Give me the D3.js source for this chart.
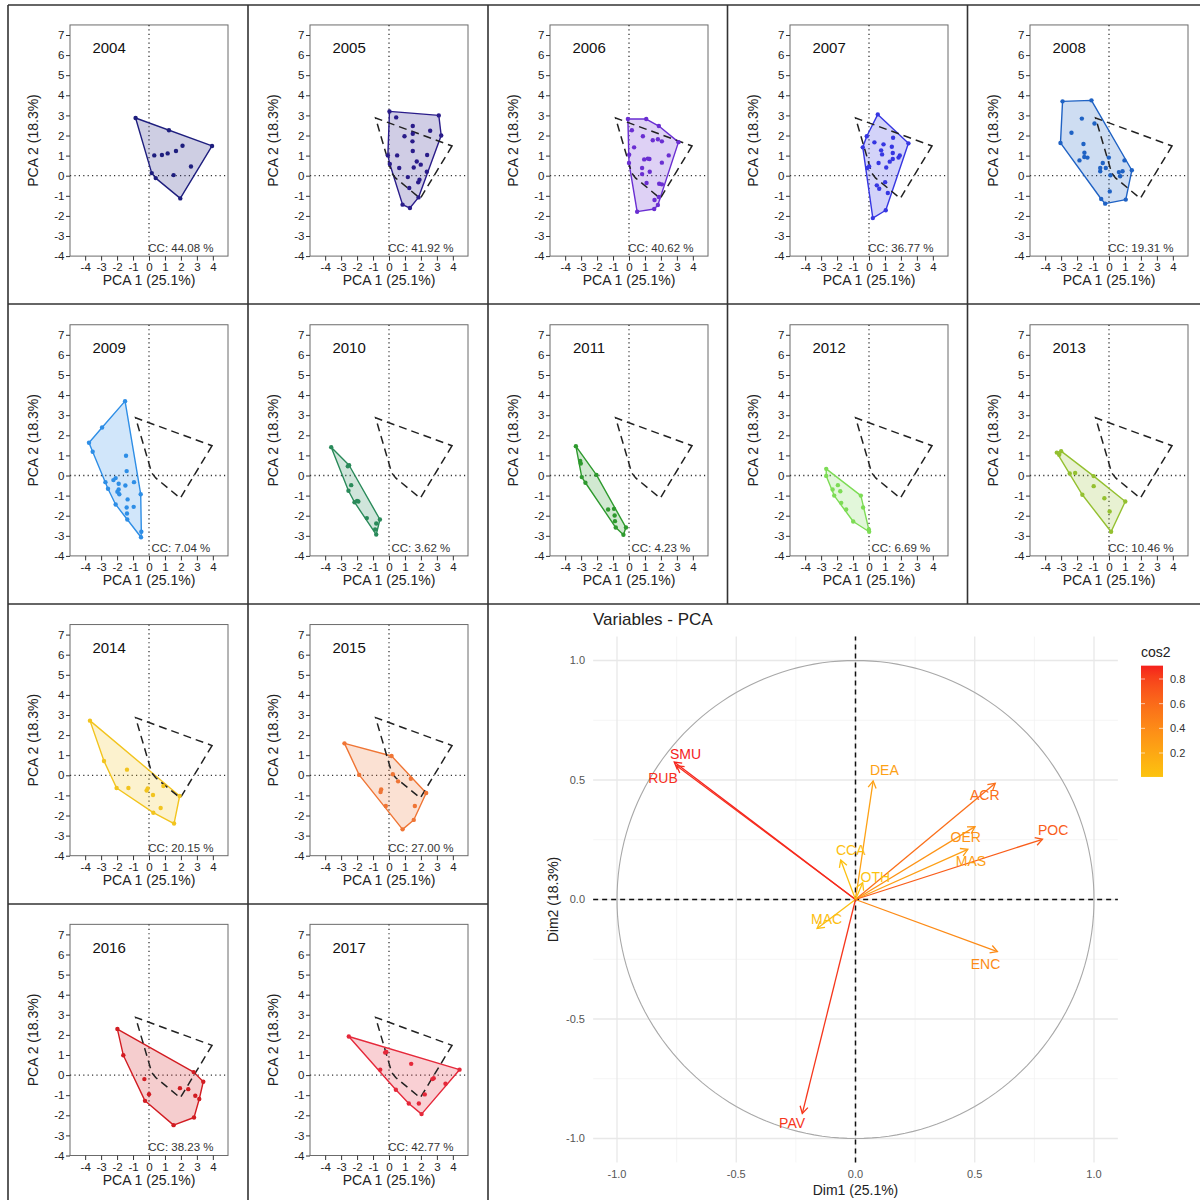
<!DOCTYPE html>
<html><head><meta charset="utf-8">
<script src="https://cdn.jsdelivr.net/npm/d3@7"></script>
<style>
body{margin:0;background:#fff;}
svg{display:block;font-family:"Liberation Sans",Arial,sans-serif;}
</style>
</head><body>
<svg id="c" width="1201" height="1201"></svg>
<script>
// ---------------- DATA ----------------
const years = [2004,2005,2006,2007,2008,2009,2010,2011,2012,2013,2014,2015,2016,2017];
const ccValues = ["44.08","41.92","40.62","36.77","19.31","7.04","3.62","4.23","6.69","10.46","20.15","27.00","38.23","42.77"];
const yearColors = ["#1e1e7e","#2a1c8a","#6a2ed2","#3636e2","#1f62c4","#2e8ee6","#2a8a5a","#2e9a2e","#7ddc55","#94c030","#f2c41e","#ef7535","#d21c22","#e5283a"];

const pts2004 = [[-0.84,2.87],[1.25,2.26],[3.95,1.48],[2.1,1.49],[1.69,1.23],[1.17,1.11],[0.81,1.03],[0.33,1.01],[2.63,0.46],[1.54,0.03],[0.17,0.13],[0.42,-0.12],[1.96,-1.13]];
const pts2005 = [[0.03,3.2],[0.45,2.9],[3.12,3.0],[3.27,2.0],[1.49,2.47],[1.49,2.09],[2.58,2.24],[0.97,1.96],[1.47,1.71],[1.49,1.23],[-0.07,1.01],[0.51,1.01],[2.39,1.03],[1.74,0.71],[1.99,0.55],[1.55,0.41],[0.05,0.58],[0.64,0.38],[2.37,0.2],[1.18,-0.07],[1.91,-0.2],[1.83,-0.33],[1.27,-0.61],[1.85,-1.08],[0.85,-1.44],[1.31,-1.61]];
const pts2006 = [[-0.07,2.82],[1.08,2.82],[1.87,2.47],[3.1,1.67],[0.18,2.26],[0.87,1.96],[1.49,1.76],[1.81,1.81],[2.06,1.71],[0.32,1.41],[2.49,1.01],[0.01,1.04],[0.95,0.81],[1.18,0.85],[1.28,0.83],[2.06,0.65],[0.82,0.38],[1.3,0.2],[0.82,0.08],[1.1,-0.36],[1.89,-0.4],[2.06,-0.43],[1.87,-1.06],[1.6,-1.21],[1.81,-1.46],[1.58,-1.66],[0.51,-1.79],[0.0,0.63]];
const pts2007 = [[0.55,3.05],[-0.14,1.96],[-0.39,1.41],[2.47,1.61],[1.51,1.89],[0.34,1.66],[0.91,1.56],[1.43,1.44],[0.76,1.26],[0.82,1.06],[1.49,1.13],[1.93,1.01],[1.85,0.9],[1.49,0.83],[1.3,0.7],[0.6,0.63],[0.01,0.46],[-0.11,0.38],[1.08,0.41],[1.01,-0.32],[0.49,-0.48],[0.64,-0.65],[1.18,-0.86],[1.05,-1.72],[0.24,-2.11]];
const pts2008 = [[-2.91,3.7],[-1.1,3.75],[-3.04,1.63],[-2.35,2.14],[-1.7,2.84],[-0.91,2.6],[-1.6,1.58],[-1.54,1.14],[-1.35,0.9],[-1.55,0.93],[-1.85,0.76],[-0.39,0.63],[-0.55,0.38],[-0.55,0.22],[-0.2,0.38],[-0.01,0.9],[0.97,0.76],[1.43,0.27],[0.85,0.22],[0.62,0.18],[0.7,-0.03],[0.09,0.02],[0.05,-0.78],[-0.49,-1.16],[-0.24,-1.39],[1.05,-1.19]];
const pts2009 = [[-1.5,3.7],[-2.94,2.39],[-3.76,1.63],[-3.53,1.18],[-1.44,0.98],[-1.4,0.22],[-2.73,-0.33],[-2.23,-0.23],[-2.09,-0.13],[-1.9,-0.41],[-1.48,-0.5],[-0.94,-0.33],[-2.57,-0.66],[-1.9,-0.7],[-1.98,-0.81],[-1.86,-0.93],[-0.52,-0.93],[-1.34,-1.19],[-0.96,-1.56],[-1.4,-1.59],[-2.09,-1.44],[-1.38,-1.89],[-1.36,-2.19],[-0.48,-2.8],[-0.5,-3.07]];
const pts2010 = [[-3.62,1.41],[-2.5,0.51],[-2.58,0.46],[-2.37,-0.48],[-2.54,-0.76],[-2.16,-1.33],[-2.0,-1.26],[-1.92,-1.29],[-1.39,-2.12],[-0.57,-2.19],[-0.8,-2.39],[-0.87,-2.69],[-0.8,-2.94]];
const pts2011 = [[-3.33,1.46],[-3.06,0.73],[-3.02,0.6],[-2.96,-0.08],[-2.73,-0.36],[-2.04,0.03],[-1.31,-1.69],[-0.94,-1.66],[-0.9,-1.99],[-0.88,-2.27],[-0.83,-2.59],[-0.19,-2.59],[-0.35,-2.95]];
const pts2012 = [[-2.68,0.33],[-2.68,-0.02],[-1.95,-0.48],[-2.28,-0.7],[-1.8,-0.78],[-2.18,-1.0],[-0.51,-1.0],[-1.74,-1.36],[-1.43,-1.69],[-0.37,-1.59],[-0.99,-2.29],[-0.01,-2.69],[0.01,-2.8]];
const pts2013 = [[-3.27,1.14],[-3.0,1.21],[-3.12,1.03],[-2.46,0.1],[-2.12,0.13],[-0.96,-0.03],[-0.96,-0.53],[-1.67,-0.96],[-0.29,-1.13],[1.02,-1.29],[0.04,-1.79],[0.13,-2.8]];
const pts2014 = [[-3.7,2.72],[-2.82,0.71],[-2.03,-0.63],[-1.38,0.28],[-1.29,-0.63],[-0.15,-0.76],[-0.08,-0.65],[0.25,-0.98],[0.9,-0.53],[1.92,-1.03],[0.73,-1.63],[0.27,-1.86],[1.57,-2.4]];
const pts2015 = [[-2.79,1.59],[-1.87,0.02],[0.16,0.96],[0.24,0.05],[0.57,-0.3],[1.37,-0.17],[2.33,-0.88],[-0.49,-0.71],[-0.53,-0.83],[-0.2,-1.53],[1.62,-1.53],[1.55,-2.22],[0.85,-2.69]];
const pts2016 = [[-1.98,2.29],[-1.61,0.99],[-0.29,-0.2],[0.0,-0.95],[-0.25,-1.28],[1.54,-2.49],[2.82,-2.11],[3.15,-1.19],[2.9,-1.03],[3.4,-0.33],[2.8,0.15],[1.94,-0.65],[2.46,-0.7]];
const pts2017 = [[-2.52,1.92],[-0.24,1.12],[-0.17,1.15],[-0.55,0.27],[1.39,0.56],[4.42,0.27],[0.43,-0.73],[1.24,-1.41],[1.87,-1.41],[2.04,-1.94],[2.24,-0.96],[2.72,-0.2],[2.8,-0.16],[3.54,-0.43]];
const yearPoints = [pts2004,pts2005,pts2006,pts2007,pts2008,pts2009,pts2010,pts2011,pts2012,pts2013,pts2014,pts2015,pts2016,pts2017];

const xTicks = [-4,-3,-2,-1,0,1,2,3,4];
const yTicks = [-4,-3,-2,-1,0,1,2,3,4,5,6,7];
const xLabelPanel = "PCA 1 (25.1%)";
const yLabelPanel = "PCA 2 (18.3%)";

// Variables PCA
const varNames = ["SMU","RUB","DEA","ACR","OER","MAS","POC","CCA","OTH","MAC","ENC","PAV"];
const varDim1  = [-0.76,-0.75,0.074,0.586,0.501,0.471,0.784,-0.062,0.03,-0.161,0.595,-0.223];
const varDim2  = [0.575,0.56,0.496,0.486,0.305,0.21,0.252,0.165,0.07,-0.121,-0.218,-0.895];
const labelDim1 = [-0.713,-0.807,0.121,0.542,0.462,0.484,0.829,-0.02,0.083,-0.121,0.545,-0.266];
const labelDim2 = [0.609,0.507,0.541,0.437,0.263,0.162,0.291,0.207,0.095,-0.082,-0.27,-0.937];
const varMajorTicks = [-1,-0.5,0,0.5,1];
const varMinorTicks = [-0.75,-0.25,0.25,0.75];
const legendTicks = [0.2,0.4,0.6,0.8];

// ---------------- DRAW ----------------
const svg = d3.select("#c");
const FONT = '"Liberation Sans",Arial,sans-serif';

// cell frame lines
const frame = svg.append("g").attr("stroke","#333").attr("stroke-width",1.6);
[[8,5,1200,5],[8,304,1200,304],[8,604,1200,604],[8,904,488,904],
 [8,5,8,1200],[248,5,248,1200],[488,5,488,1200],[727.5,5,727.5,604],[967.5,5,967.5,604]]
 .forEach(l=>frame.append("line").attr("x1",l[0]).attr("y1",l[1]).attr("x2",l[2]).attr("y2",l[3]));

const refHull = d3.polygonHull(pts2004);

years.forEach((yr,i)=>{
  const col = i<10 ? i%5 : (i-10)%2;
  const row = i<10 ? Math.floor(i/5) : 2+Math.floor((i-10)/2);
  const cx = 149 + 240*col;
  const cy = 175.7 + 299.8*row;
  const x = d3.scaleLinear().domain([-4.95,4.95]).range([cx-79, cx+79]);
  const y = d3.scaleLinear().domain([-4,7.5]).range([cy+80.4, cy-150.75]);
  const g = svg.append("g");
  const color = yearColors[i];

  // box
  g.append("rect").attr("x",x(-4.95)).attr("y",y(7.5))
    .attr("width",x(4.95)-x(-4.95)).attr("height",y(-4)-y(7.5))
    .attr("fill","none").attr("stroke","#6b6b6b").attr("stroke-width",1);

  // axes
  const ax = g.append("g").attr("transform",`translate(0,${y(-4)})`)
    .call(d3.axisBottom(x).tickValues(xTicks).tickFormat(d=>String(d)).tickSize(4.5).tickPadding(2.5).tickSizeOuter(0));
  const ay = g.append("g").attr("transform",`translate(${x(-4.95)},0)`)
    .call(d3.axisLeft(y).tickValues(yTicks).tickFormat(d=>String(d)).tickSize(4).tickPadding(1.5).tickSizeOuter(0));
  [ax,ay].forEach(a=>{
    a.select(".domain").remove();
    a.selectAll("line").attr("stroke","#333");
    a.selectAll("text").attr("font-size",11.5).attr("font-family",FONT).attr("fill","#222");
  });

  // axis titles
  g.append("text").attr("x",x(0)).attr("y",y(-4)+29).attr("text-anchor","middle")
    .attr("font-size",14).attr("fill","#222").text(xLabelPanel);
  g.append("text").attr("transform",`translate(${cx-111},${(y(7.5)+y(-4))/2}) rotate(-90)`)
    .attr("text-anchor","middle").attr("font-size",14).attr("fill","#222").text(yLabelPanel);

  // clip
  const clipId = "clip"+yr;
  g.append("clipPath").attr("id",clipId).append("rect")
    .attr("x",x(-4.95)).attr("y",y(7.5)).attr("width",x(4.95)-x(-4.95)).attr("height",y(-4)-y(7.5));
  const p = g.append("g").attr("clip-path",`url(#${clipId})`);

  // dotted zero lines
  p.append("line").attr("x1",x(0)).attr("x2",x(0)).attr("y1",y(7.5)).attr("y2",y(-4))
    .attr("stroke","#333").attr("stroke-width",1.3).attr("stroke-dasharray","1.2,3.2");
  p.append("line").attr("x1",x(-4.95)).attr("x2",x(4.95)).attr("y1",y(0)).attr("y2",y(0))
    .attr("stroke","#333").attr("stroke-width",1.3).attr("stroke-dasharray","1.2,3.2");

  // hull
  const pts = yearPoints[i];
  const hull = d3.polygonHull(pts);
  const line = d3.line().x(d=>x(d[0])).y(d=>y(d[1])).curve(d3.curveLinearClosed);
  p.append("path").attr("d",line(hull)).attr("fill",color).attr("fill-opacity",0.22)
    .attr("stroke",color).attr("stroke-width",1.4).attr("stroke-linejoin","round");

  // reference dashed polygon
  if (i>0) {
    p.append("path").attr("d",line(refHull)).attr("fill","none")
      .attr("stroke","#222").attr("stroke-width",1.5).attr("stroke-dasharray","8,5");
  }

  // points
  p.selectAll("circle.pt").data(pts).join("circle").attr("class","pt")
    .attr("cx",d=>x(d[0])).attr("cy",d=>y(d[1])).attr("r",2.2).attr("fill",color);

  // labels
  g.append("text").attr("x",x(-2.5)).attr("y",y(6.35)).attr("dy","0.35em")
    .attr("text-anchor","middle").attr("font-size",15).attr("fill","#111").text(yr);
  g.append("text").attr("x",x(2)).attr("y",y(-3.6)).attr("dy","0.35em")
    .attr("text-anchor","middle").attr("font-size",11.5).attr("fill","#333").text("CC: "+ccValues[i]+" %");
});

// ---------------- Variables - PCA ----------------
const vx = d3.scaleLinear().domain([-1.1,1.1]).range([855.5-1.1*238.5, 855.5+1.1*238.5]);
const vy = d3.scaleLinear().domain([-1.1,1.1]).range([899.5+1.1*239, 899.5-1.1*239]);
const vg = svg.append("g");

// grid
const gridG = vg.append("g");
varMinorTicks.forEach(t=>{
  gridG.append("line").attr("x1",vx(t)).attr("x2",vx(t)).attr("y1",vy(-1.1)).attr("y2",vy(1.1)).attr("stroke","#f2f2f2").attr("stroke-width",0.8);
  gridG.append("line").attr("y1",vy(t)).attr("y2",vy(t)).attr("x1",vx(-1.1)).attr("x2",vx(1.1)).attr("stroke","#f2f2f2").attr("stroke-width",0.8);
});
varMajorTicks.forEach(t=>{
  gridG.append("line").attr("x1",vx(t)).attr("x2",vx(t)).attr("y1",vy(-1.1)).attr("y2",vy(1.1)).attr("stroke","#e8e8e8").attr("stroke-width",1.3);
  gridG.append("line").attr("y1",vy(t)).attr("y2",vy(t)).attr("x1",vx(-1.1)).attr("x2",vx(1.1)).attr("stroke","#e8e8e8").attr("stroke-width",1.3);
});

// unit circle
const angles = d3.range(0, 361, 2).map(a=>a*Math.PI/180);
vg.append("path").attr("d", d3.line().x(a=>vx(Math.cos(a))).y(a=>vy(Math.sin(a)))(angles))
  .attr("fill","none").attr("stroke","#a8a8a8").attr("stroke-width",1.1);

// dashed zero lines
vg.append("line").attr("x1",vx(0)).attr("x2",vx(0)).attr("y1",vy(-1.1)).attr("y2",vy(1.1))
  .attr("stroke","#111").attr("stroke-width",1.5).attr("stroke-dasharray","5,4");
vg.append("line").attr("y1",vy(0)).attr("y2",vy(0)).attr("x1",vx(-1.1)).attr("x2",vx(1.1))
  .attr("stroke","#111").attr("stroke-width",1.5).attr("stroke-dasharray","5,4");

// tick labels
varMajorTicks.forEach(t=>{
  vg.append("text").attr("x",vx(t)).attr("y",1178).attr("text-anchor","middle")
    .attr("font-size",11).attr("fill","#555").text(t.toFixed(1));
  vg.append("text").attr("x",585).attr("y",vy(t)).attr("dy","0.35em").attr("text-anchor","end")
    .attr("font-size",11).attr("fill","#555").text(t.toFixed(1));
});
vg.append("text").attr("x",vx(0)).attr("y",1195).attr("text-anchor","middle").attr("font-size",14).attr("fill","#222").text("Dim1 (25.1%)");
vg.append("text").attr("transform",`translate(558,${vy(0)}) rotate(-90)`).attr("text-anchor","middle").attr("font-size",14).attr("fill","#222").text("Dim2 (18.3%)");
vg.append("text").attr("x",593).attr("y",625).attr("font-size",17).attr("fill","#222").text("Variables - PCA");

// colors by cos2
const cos2 = varNames.map((n,i)=>varDim1[i]*varDim1[i]+varDim2[i]*varDim2[i]);
const cMin = d3.min(cos2), cMax = d3.max(cos2);
const colorScale = d3.scaleLinear().domain([cMin,cMax]).range(["#fcc30f","#f5211c"]).interpolate(d3.interpolateLab);

// arrows
const arrowG = vg.append("g");
varNames.forEach((n,i)=>{
  const x1 = vx(varDim1[i]), y1 = vy(varDim2[i]);
  const x0 = vx(0), y0 = vy(0);
  const c = colorScale(cos2[i]);
  arrowG.append("line").attr("x1",x0).attr("y1",y0).attr("x2",x1).attr("y2",y1)
    .attr("stroke",c).attr("stroke-width",1.3);
  const ang = Math.atan2(y1-y0, x1-x0);
  const L = 8, A = Math.PI/6;
  const pA = [x1 - L*Math.cos(ang-A), y1 - L*Math.sin(ang-A)];
  const pB = [x1 - L*Math.cos(ang+A), y1 - L*Math.sin(ang+A)];
  arrowG.append("path").attr("d",`M${pA[0]},${pA[1]}L${x1},${y1}L${pB[0]},${pB[1]}`)
    .attr("fill","none").attr("stroke",c).attr("stroke-width",1.3);
});
varNames.forEach((n,i)=>{
  arrowG.append("text").attr("x",vx(labelDim1[i])).attr("y",vy(labelDim2[i])).attr("dy","0.35em")
    .attr("text-anchor","middle").attr("font-size",14).attr("fill",colorScale(cos2[i])).text(n);
});

// legend
const ly = d3.scaleLinear().domain([0.2,0.8]).range([753,679]);
const defs = svg.append("defs");
const grad = defs.append("linearGradient").attr("id","cgrad").attr("x1",0).attr("y1",1).attr("x2",0).attr("y2",0);
d3.range(0,1.0001,0.1).forEach(t=>{
  grad.append("stop").attr("offset",t).attr("stop-color",colorScale(cMin+t*(cMax-cMin)));
});
svg.append("rect").attr("x",1141).attr("y",ly(cMax)).attr("width",22).attr("height",ly(cMin)-ly(cMax)).attr("fill","url(#cgrad)");
legendTicks.forEach(t=>{
  svg.append("line").attr("x1",1141).attr("x2",1145).attr("y1",ly(t)).attr("y2",ly(t)).attr("stroke","#fff").attr("stroke-width",0.8).attr("stroke-opacity",0.8);
  svg.append("line").attr("x1",1159).attr("x2",1163).attr("y1",ly(t)).attr("y2",ly(t)).attr("stroke","#fff").attr("stroke-width",0.8).attr("stroke-opacity",0.8);
  svg.append("text").attr("x",1170).attr("y",ly(t)).attr("dy","0.35em").attr("font-size",11).attr("fill","#333").text(t.toFixed(1));
});
svg.append("text").attr("x",1141).attr("y",657).attr("font-size",14).attr("fill","#222").text("cos2");
</script>
</body></html>
